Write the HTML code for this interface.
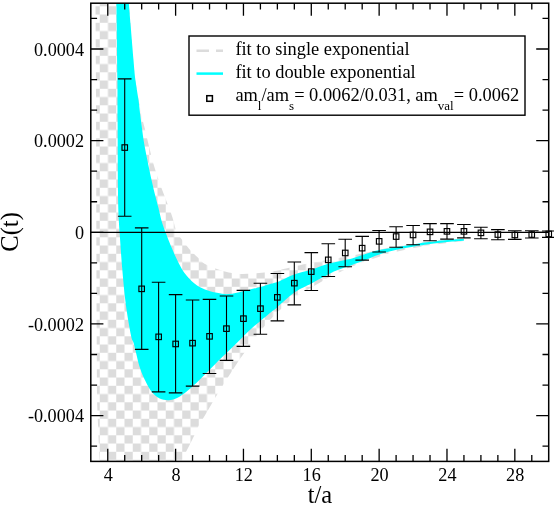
<!DOCTYPE html>
<html><head><meta charset="utf-8"><title>C(t)</title>
<style>html,body{margin:0;padding:0;background:#fff;}body{width:554px;height:505px;overflow:hidden;position:relative;}svg{position:absolute;left:0;top:0;display:block;will-change:transform;}text{font-family:"Liberation Serif",serif;fill:#000;}</style></head><body>
<svg width="554" height="505" viewBox="0 0 554 505">
<defs>
<pattern id="chk" patternUnits="userSpaceOnUse" x="0.75" y="6.3" width="16.50" height="16.50">
<rect x="8.25" y="0" width="8.25" height="8.25" fill="#dcdcdc"/>
<rect x="0" y="8.25" width="8.25" height="8.25" fill="#dcdcdc"/>
</pattern>
<clipPath id="fr"><rect x="90.8" y="3.2" width="457.9" height="458.2"/></clipPath>
</defs>
<rect width="554" height="505" fill="#fff"/>
<g clip-path="url(#fr)">
<path d="M116.0 3.0C118.0 3.0 125.0 -8.2 128.0 3.0C131.0 14.2 131.9 52.2 134.0 70.0C136.1 87.8 138.7 100.2 140.5 110.0C142.3 119.8 142.3 118.3 144.8 128.5C147.3 138.7 151.2 156.8 155.6 171.0C160.0 185.2 167.8 203.8 171.3 214.0C174.8 224.2 175.0 228.1 176.5 232.0C178.0 235.9 178.0 234.5 180.3 237.6C182.6 240.7 187.0 246.6 190.4 250.3C193.8 254.0 198.1 257.7 200.5 260.0C202.9 262.3 202.3 262.5 205.0 264.0C207.7 265.5 212.9 267.6 216.9 269.0C220.9 270.4 224.8 271.7 228.8 272.5C232.8 273.3 236.8 273.8 240.7 274.0C244.6 274.2 248.6 273.8 252.5 273.5C256.4 273.2 260.3 273.0 264.4 272.5C268.5 272.0 272.3 271.5 277.3 270.5C282.3 269.5 289.6 267.6 294.3 266.5C299.0 265.4 301.1 264.9 305.4 264.0C309.7 263.1 314.9 262.2 320.0 261.3C325.1 260.4 330.5 259.5 335.8 258.5C341.1 257.5 346.4 256.6 352.0 255.5C357.6 254.4 363.0 253.3 369.3 252.0C375.6 250.7 383.2 248.9 389.9 247.6C396.6 246.3 403.1 245.4 409.7 244.4C416.3 243.4 423.0 242.2 429.6 241.4C436.2 240.6 443.7 239.9 449.4 239.4C455.1 238.9 461.5 238.8 463.9 238.7L463.9 241.1L449.4 242.7L429.6 245.2L409.7 248.8L389.9 253.3L369.3 260.0L349.4 267.5L329.6 277.0L311.4 287.5L294.3 297.5L277.3 312.3L266.2 324.0L258.2 334.0L250.2 344.7L239.5 359.4L227.5 378.1L215.8 396.8L206.5 412.8L198.8 425.4L193.9 436.2L189.8 444.4L186.2 451.6L181.5 461.4L99.5 461.4L97.0 400.0L96.5 300.0L96.0 100.0L95.5 3.0Z" fill="url(#chk)"/>
<path d="M128.8 3.0C129.2 7.5 130.2 20.5 131.0 30.0C131.8 39.5 132.8 51.7 133.5 60.0C134.2 68.3 134.6 73.3 135.4 80.0C136.2 86.7 137.6 93.3 138.5 100.0C139.4 106.7 139.8 112.2 140.9 120.0C142.0 127.8 142.8 136.1 144.8 147.0C146.8 157.9 150.5 175.3 152.8 185.5C155.1 195.7 157.0 201.9 158.5 208.0C160.0 214.1 160.7 217.9 161.9 222.0C163.1 226.1 164.1 228.5 165.6 232.4C167.1 236.3 169.0 241.2 170.8 245.7C172.7 250.1 174.5 254.6 176.7 259.1C178.9 263.6 181.1 268.4 184.1 272.5C187.1 276.6 191.0 280.8 194.5 283.6C198.0 286.4 201.2 288.0 205.0 289.5C208.8 291.0 213.0 292.0 217.0 292.8C221.0 293.6 224.5 294.4 228.8 294.1C233.1 293.9 237.8 292.5 243.0 291.3C248.2 290.1 255.8 288.2 260.3 287.0C264.8 285.8 267.2 284.8 270.0 284.0C272.8 283.2 273.2 283.6 277.3 282.0C281.4 280.4 288.6 276.4 294.3 274.4C300.0 272.3 307.1 271.0 311.4 269.7C315.7 268.4 317.1 267.6 320.0 266.6C322.9 265.6 326.0 264.4 328.6 263.6C331.2 262.8 333.0 262.6 335.8 262.0C338.6 261.4 342.6 260.6 345.3 260.0C348.0 259.4 349.1 259.3 352.0 258.5C354.9 257.7 358.0 256.4 362.5 255.0C367.0 253.6 373.5 251.4 379.2 250.1C384.9 248.8 391.5 248.0 396.6 247.2C401.7 246.3 406.1 245.7 410.0 245.0C413.9 244.3 416.7 243.7 420.0 243.2C423.3 242.7 425.5 242.4 430.0 241.8C434.5 241.2 442.7 240.3 447.0 239.9C451.3 239.5 453.2 239.4 456.0 239.2C458.8 239.0 462.6 238.9 463.9 238.9L463.9 240.8C462.6 240.9 458.8 241.1 456.0 241.3C453.2 241.5 451.3 241.6 447.0 242.0C442.7 242.4 434.5 243.4 430.0 244.0C425.5 244.6 423.3 245.1 420.0 245.6C416.7 246.1 413.9 246.5 410.0 247.2C406.1 247.9 401.7 248.6 396.6 249.8C391.5 251.0 384.9 252.5 379.2 254.4C373.5 256.3 367.0 259.4 362.5 261.1C358.0 262.9 354.9 263.9 352.0 264.9C349.1 265.9 348.0 266.2 345.3 267.2C342.6 268.2 338.6 269.5 335.8 270.7C333.0 271.9 331.2 272.9 328.6 274.3C326.0 275.7 322.9 277.3 320.0 278.8C317.1 280.3 315.7 281.2 311.4 283.5C307.1 285.8 300.0 288.7 294.3 292.6C288.6 296.6 281.6 303.6 277.3 307.2C273.1 310.8 272.3 311.0 268.8 313.9C265.3 316.8 260.1 321.0 256.1 324.5C252.1 328.0 248.8 331.1 245.0 334.8C241.2 338.5 236.8 343.0 233.2 346.5C229.6 350.0 227.0 352.3 223.3 355.9C219.7 359.5 215.3 363.9 211.3 367.9C207.3 371.9 203.4 376.1 199.4 379.9C195.4 383.7 191.1 387.8 187.5 390.8C183.9 393.8 180.7 396.2 177.6 397.8C174.5 399.4 171.7 400.2 168.7 400.3C165.7 400.4 162.5 400.0 159.7 398.6C156.9 397.2 154.1 394.8 151.8 392.0C149.5 389.2 147.8 385.7 145.8 381.7C143.8 377.7 141.9 374.1 139.9 367.8C137.9 361.5 135.4 349.4 133.9 344.0C132.4 338.6 132.3 342.1 131.0 335.5C129.7 328.9 127.2 315.3 125.8 304.3C124.3 293.3 123.3 281.2 122.3 269.6C121.3 258.1 120.4 244.3 119.8 235.0C119.2 225.7 118.8 222.2 118.5 214.0C118.2 205.8 118.1 201.2 117.9 185.5C117.8 169.8 117.7 137.6 117.6 120.0C117.5 102.4 117.6 99.5 117.4 80.0C117.2 60.5 116.6 15.8 116.4 3.0Z" fill="#00ffff"/>
</g>
<line x1="90.8" y1="232.3" x2="548.8" y2="232.3" stroke="#000" stroke-width="1.25"/>
<g stroke="#000" stroke-width="1.1" fill="none">
<path d="M124.7 78.9V216.3M117.9 78.9H131.5M117.9 216.3H131.5"/>
<rect x="122.0" y="144.8" width="5.5" height="5.5" stroke-width="1.15"/>
<path d="M141.7 227.9V349.4M134.9 227.9H148.5M134.9 349.4H148.5"/>
<rect x="138.9" y="286.1" width="5.5" height="5.5" stroke-width="1.15"/>
<path d="M158.6 282.2V391.9M151.8 282.2H165.4M151.8 391.9H165.4"/>
<rect x="155.9" y="334.1" width="5.5" height="5.5" stroke-width="1.15"/>
<path d="M175.6 294.6V392.9M168.8 294.6H182.4M168.8 392.9H182.4"/>
<rect x="172.9" y="341.2" width="5.5" height="5.5" stroke-width="1.15"/>
<path d="M192.6 300.0V386.1M185.8 300.0H199.4M185.8 386.1H199.4"/>
<rect x="189.8" y="340.4" width="5.5" height="5.5" stroke-width="1.15"/>
<path d="M209.5 299.4V373.5M202.7 299.4H216.3M202.7 373.5H216.3"/>
<rect x="206.8" y="333.6" width="5.5" height="5.5" stroke-width="1.15"/>
<path d="M226.5 296.0V360.4M219.7 296.0H233.3M219.7 360.4H233.3"/>
<rect x="223.7" y="325.9" width="5.5" height="5.5" stroke-width="1.15"/>
<path d="M243.4 290.4V346.4M236.6 290.4H250.2M236.6 346.4H250.2"/>
<rect x="240.7" y="315.9" width="5.5" height="5.5" stroke-width="1.15"/>
<path d="M260.4 283.3V334.2M253.6 283.3H267.2M253.6 334.2H267.2"/>
<rect x="257.7" y="305.9" width="5.5" height="5.5" stroke-width="1.15"/>
<path d="M277.4 273.5V320.9M270.6 273.5H284.2M270.6 320.9H284.2"/>
<rect x="274.6" y="294.6" width="5.5" height="5.5" stroke-width="1.15"/>
<path d="M294.3 262.0V304.9M287.5 262.0H301.1M287.5 304.9H301.1"/>
<rect x="291.6" y="280.4" width="5.5" height="5.5" stroke-width="1.15"/>
<path d="M311.3 252.6V290.5M304.5 252.6H318.1M304.5 290.5H318.1"/>
<rect x="308.5" y="268.9" width="5.5" height="5.5" stroke-width="1.15"/>
<path d="M328.3 243.7V276.5M321.5 243.7H335.1M321.5 276.5H335.1"/>
<rect x="325.5" y="257.1" width="5.5" height="5.5" stroke-width="1.15"/>
<path d="M345.2 239.3V266.7M338.4 239.3H352.0M338.4 266.7H352.0"/>
<rect x="342.5" y="250.2" width="5.5" height="5.5" stroke-width="1.15"/>
<path d="M362.2 236.4V260.1M355.4 236.4H369.0M355.4 260.1H369.0"/>
<rect x="359.4" y="245.4" width="5.5" height="5.5" stroke-width="1.15"/>
<path d="M379.1 230.5V252.0M372.3 230.5H385.9M372.3 252.0H385.9"/>
<rect x="376.4" y="238.6" width="5.5" height="5.5" stroke-width="1.15"/>
<path d="M396.1 226.8V247.3M389.3 226.8H402.9M389.3 247.3H402.9"/>
<rect x="393.4" y="233.8" width="5.5" height="5.5" stroke-width="1.15"/>
<path d="M413.1 225.5V244.7M406.3 225.5H419.9M406.3 244.7H419.9"/>
<rect x="410.3" y="232.2" width="5.5" height="5.5" stroke-width="1.15"/>
<path d="M430.0 223.6V240.8M423.2 223.6H436.8M423.2 240.8H436.8"/>
<rect x="427.3" y="229.1" width="5.5" height="5.5" stroke-width="1.15"/>
<path d="M447.0 223.6V239.1M440.2 223.6H453.8M440.2 239.1H453.8"/>
<rect x="444.2" y="228.6" width="5.5" height="5.5" stroke-width="1.15"/>
<path d="M463.9 224.5V237.9M457.1 224.5H470.7M457.1 237.9H470.7"/>
<rect x="461.2" y="228.6" width="5.5" height="5.5" stroke-width="1.15"/>
<path d="M480.9 227.3V238.8M474.1 227.3H487.7M474.1 238.8H487.7"/>
<rect x="478.2" y="230.1" width="5.5" height="5.5" stroke-width="1.15"/>
<path d="M497.9 229.6V239.7M491.1 229.6H504.7M491.1 239.7H504.7"/>
<rect x="495.1" y="231.8" width="5.5" height="5.5" stroke-width="1.15"/>
<path d="M514.8 230.8V239.4M508.0 230.8H521.6M508.0 239.4H521.6"/>
<rect x="512.1" y="232.2" width="5.5" height="5.5" stroke-width="1.15"/>
<path d="M531.8 230.7V238.0M525.0 230.7H538.6M525.0 238.0H538.6"/>
<rect x="529.0" y="231.8" width="5.5" height="5.5" stroke-width="1.15"/>
<path d="M548.8 231.0V237.4M542.0 231.0H555.5M542.0 237.4H555.5"/>
<rect x="546.0" y="231.2" width="5.5" height="5.5" stroke-width="1.15"/>
</g>
<g stroke="#000" stroke-width="1.3" fill="none">
<path d="M107.76 461.4v-12.6M107.76 3.2v12.6"/>
<path d="M124.72 461.4v-6.3M124.72 3.2v6.3"/>
<path d="M141.68 461.4v-6.3M141.68 3.2v6.3"/>
<path d="M158.64 461.4v-6.3M158.64 3.2v6.3"/>
<path d="M175.61 461.4v-12.6M175.61 3.2v12.6"/>
<path d="M192.57 461.4v-6.3M192.57 3.2v6.3"/>
<path d="M209.53 461.4v-6.3M209.53 3.2v6.3"/>
<path d="M226.49 461.4v-6.3M226.49 3.2v6.3"/>
<path d="M243.45 461.4v-12.6M243.45 3.2v12.6"/>
<path d="M260.41 461.4v-6.3M260.41 3.2v6.3"/>
<path d="M277.37 461.4v-6.3M277.37 3.2v6.3"/>
<path d="M294.33 461.4v-6.3M294.33 3.2v6.3"/>
<path d="M311.29 461.4v-12.6M311.29 3.2v12.6"/>
<path d="M328.26 461.4v-6.3M328.26 3.2v6.3"/>
<path d="M345.22 461.4v-6.3M345.22 3.2v6.3"/>
<path d="M362.18 461.4v-6.3M362.18 3.2v6.3"/>
<path d="M379.14 461.4v-12.6M379.14 3.2v12.6"/>
<path d="M396.10 461.4v-6.3M396.10 3.2v6.3"/>
<path d="M413.06 461.4v-6.3M413.06 3.2v6.3"/>
<path d="M430.02 461.4v-6.3M430.02 3.2v6.3"/>
<path d="M446.98 461.4v-12.6M446.98 3.2v12.6"/>
<path d="M463.94 461.4v-6.3M463.94 3.2v6.3"/>
<path d="M480.91 461.4v-6.3M480.91 3.2v6.3"/>
<path d="M497.87 461.4v-6.3M497.87 3.2v6.3"/>
<path d="M514.83 461.4v-12.6M514.83 3.2v12.6"/>
<path d="M531.79 461.4v-6.3M531.79 3.2v6.3"/>
<path d="M90.8 446.13h6.3M548.8 446.13h-6.3"/>
<path d="M90.8 415.58h12.6M548.8 415.58h-12.6"/>
<path d="M90.8 385.03h6.3M548.8 385.03h-6.3"/>
<path d="M90.8 354.49h6.3M548.8 354.49h-6.3"/>
<path d="M90.8 323.94h12.6M548.8 323.94h-12.6"/>
<path d="M90.8 293.39h6.3M548.8 293.39h-6.3"/>
<path d="M90.8 262.85h6.3M548.8 262.85h-6.3"/>
<path d="M90.8 232.30h12.6M548.8 232.30h-12.6"/>
<path d="M90.8 201.75h6.3M548.8 201.75h-6.3"/>
<path d="M90.8 171.21h6.3M548.8 171.21h-6.3"/>
<path d="M90.8 140.66h12.6M548.8 140.66h-12.6"/>
<path d="M90.8 110.11h6.3M548.8 110.11h-6.3"/>
<path d="M90.8 79.57h6.3M548.8 79.57h-6.3"/>
<path d="M90.8 49.02h12.6M548.8 49.02h-12.6"/>
<path d="M90.8 18.47h6.3M548.8 18.47h-6.3"/>
</g>
<rect x="90.8" y="3.2" width="457.9" height="458.2" fill="none" stroke="#000" stroke-width="1.5"/>
<text x="108.2" y="481.0" font-size="18.2" text-anchor="middle">4</text>
<text x="176.0" y="481.0" font-size="18.2" text-anchor="middle">8</text>
<text x="243.8" y="481.0" font-size="18.2" text-anchor="middle">12</text>
<text x="311.7" y="481.0" font-size="18.2" text-anchor="middle">16</text>
<text x="379.5" y="481.0" font-size="18.2" text-anchor="middle">20</text>
<text x="447.4" y="481.0" font-size="18.2" text-anchor="middle">24</text>
<text x="515.2" y="481.0" font-size="18.2" text-anchor="middle">28</text>
<text x="84.0" y="55.7" font-size="18.2" text-anchor="end">0.0004</text>
<text x="84.0" y="147.4" font-size="18.2" text-anchor="end">0.0002</text>
<text x="84.0" y="239.0" font-size="18.2" text-anchor="end">0</text>
<text x="84.0" y="330.6" font-size="18.2" text-anchor="end">-0.0002</text>
<text x="84.0" y="422.3" font-size="18.2" text-anchor="end">-0.0004</text>
<text x="319.9" y="503.0" font-size="24.5" text-anchor="middle">t/a</text>
<text transform="translate(17.9,231.9) rotate(-90)" font-size="24.5" text-anchor="middle">C(t)</text>
<rect x="189" y="36" width="336" height="79.2" fill="#fff" stroke="#000" stroke-width="1.4"/>
<line x1="196.5" y1="50.7" x2="223" y2="50.7" stroke="#dcdcdc" stroke-width="2.4" stroke-dasharray="12.5 7"/>
<line x1="196.5" y1="73.6" x2="223" y2="73.6" stroke="#00ffff" stroke-width="2.5"/>
<rect x="206.8" y="95.7" width="5.6" height="5.6" fill="none" stroke="#000" stroke-width="1.5"/>
<text x="235.4" y="55.2" font-size="18.4">fit to single exponential</text>
<text x="235.4" y="78.1" font-size="18.4">fit to double exponential</text>
<text x="235.4" y="101.3" font-size="18.4">am<tspan font-size="13.0" dy="8.2">l</tspan><tspan dy="-8.2">/am</tspan><tspan font-size="13.0" dy="8.2">s</tspan><tspan dy="-8.2">= 0.0062/0.031, am</tspan><tspan font-size="13.0" dy="8.2">val</tspan><tspan dy="-8.2">= 0.0062</tspan></text>
</svg></body></html>
